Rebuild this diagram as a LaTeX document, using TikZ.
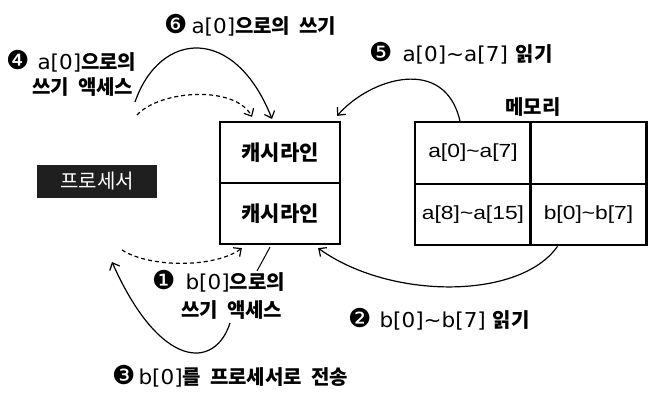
\documentclass[tikz,border=0pt]{standalone}
\usepackage{fontspec}
\setmainfont{DejaVu Sans}
\newfontfamily\latw{DejaVu Sans}[FakeStretch=1.05]
\newfontfamily\cellf{Liberation Sans}[FakeStretch=1.2]
\newfontfamily\krf{Noto Sans CJK KR}
\usetikzlibrary{arrows.meta,calc}
\newcommand\Kr[1]{{\krf\bfseries\fontsize{20}{22}\selectfont\spaceskip=9pt\relax #1}}
\newcommand\Lw[1]{{\latw\fontsize{20.5}{24}\selectfont #1}}
\newcommand\Cd[2][9pt]{{\fontsize{26}{26}\selectfont #2}\hspace{#1}}
\tikzset{
  box/.style={draw, line width=2.2pt, minimum width=120pt, minimum height=61pt, inner sep=0pt,
    font=\krf\bfseries\fontsize{21}{22}\selectfont},
  cell/.style={draw, line width=2.2pt, minimum width=116pt, minimum height=61.5pt, inner sep=0pt,
    font=\cellf\fontsize{19}{22}\selectfont},
  lab/.style={inner sep=0pt, anchor=base west},
  arr/.style={line width=1.2pt, -{Straight Barb[length=6pt,width=11pt]}},
  darr/.style={arr, dash pattern=on 4pt off 3pt},
}
\begin{document}
\begin{tikzpicture}[x=1pt,y=-1pt]
\useasboundingbox (0,0) rectangle (659,406);
% cache
\node[box] (c1) at (280,152.5) {캐시라인};
\node[box] (c2) at (280,213.5) {캐시라인};
% memory
\node[cell] (m11) at (473,153) {a[0]\textasciitilde a[7]};
\node[cell] (m12) at (588.5,153) {};
\node[cell] (m21) at (473,214.5) {a[8]\textasciitilde a[15]};
\node[cell] (m22) at (588.5,214.5) {b[0]\textasciitilde b[7]};
\node (mem) at (533,107) {\Kr{메모리}};
% processor
\node[fill=black!88, minimum width=120pt, minimum height=33pt, inner sep=0pt, text=white] (proc) at (97,181.5)
  {{\krf\fontsize{20}{22}\selectfont 프로세서}};
% labels
\node[lab] (l6) at (164,34) {\Cd[4pt]{❻}\Lw{a[0]}\Kr{으로의 쓰기}};
\node[lab] (l4a) at (6,70) {\Cd[8pt]{❹}\Lw{a[0]}\Kr{으로의}};
\node[lab] (l4b) at (32,95) {\Kr{쓰기 액세스}};
\node[lab] (l5) at (369,62) {\Cd[10pt]{❺}\Lw{a[0]\textasciitilde a[7]}\hspace{8pt}\Kr{읽기}};
\node[lab] (l1a) at (152,290) {\Cd[10pt]{❶}\Lw{b[0]}\Kr{으로의}};
\node[lab] (l1b) at (181,317) {\Kr{쓰기 액세스}};
\node[lab] (l2) at (348,327) {\Cd[8pt]{❷}\Lw{b[0]\textasciitilde b[7]}\hspace{7pt}\Kr{읽기}};
\node[lab] (l3) at (112,384) {\Cd[3pt]{❸}\Lw{b[0]}\Kr{를 프로세서로 전송}};
% connectors
\coordinate (s6) at (135,102);
\draw[arr] (s6) .. controls (160,30) and (235,25) .. ($(c1.north)+(-8,-2)$);
\coordinate (s4) at (137,115);
\draw[darr] (s4) .. controls (160,90) and (235,85) .. ($(c1.north)+(-28,-4)$);
\draw[arr] ($(m11.north)+(-13,0)$) .. controls (445,55) and (370,78) .. ($(c1.north east)+(-4,-5)$);
\draw[arr] ($(m22.south)+(-31,0)$) .. controls (520,300) and (390,300) .. ($(c2.south east)+(-23,3)$);
\coordinate (s1) at (122,250);
\draw[darr] (s1) .. controls (150,268) and (215,268) .. ($(c2.south west)+(23,3)$);
\coordinate (p1) at (257,271);
\draw[line width=1pt] (p1) -- ($(c2.south)+(-10,2)$);
\coordinate (s3) at (230,323);
\coordinate (e3) at (112,262);
\draw[arr] (s3) .. controls (215,370) and (160,370) .. (e3);
\end{tikzpicture}
\end{document}
